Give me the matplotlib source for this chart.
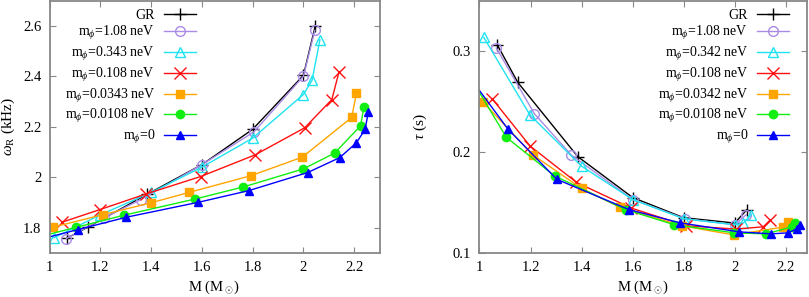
import numpy as np
import matplotlib
matplotlib.use('Agg')
import matplotlib.pyplot as plt
from matplotlib.ticker import FuncFormatter

plt.rcParams['font.family'] = ['Liberation Serif', 'DejaVu Serif']
plt.rcParams['mathtext.fontset'] = 'custom'
plt.rcParams['mathtext.rm'] = 'Liberation Serif'
plt.rcParams['mathtext.it'] = 'Liberation Serif:italic'
plt.rcParams['mathtext.sf'] = 'DejaVu Serif'
plt.rcParams['font.size'] = 10.5

# masses (M_sun) and values, one set per model
m_gr = [1.07, 1.15, 1.385, 1.60, 1.80, 2.00, 2.047]
w_gr = [1.760, 1.802, 1.933, 2.050, 2.190, 2.404, 2.601]
t_gr = [0.306, 0.269, 0.1955, 0.155, 0.135, 0.1297, 0.1428]

m_108 = [1.066, 1.215, 1.36, 1.60, 1.805, 2.00, 2.045]
w_108 = [1.757, 1.84, 1.912, 2.05, 2.18, 2.40, 2.582]
t_108 = [0.303, 0.238, 0.197, 0.153, 0.134, 0.128, 0.138]

m_034 = [1.017, 1.197, 1.40, 1.60, 1.80, 2.00, 2.034, 2.065]
w_034 = [1.760, 1.85, 1.940, 2.04, 2.155, 2.328, 2.384, 2.545]
t_034 = [0.3135, 0.237, 0.186, 0.153, 0.134, 0.128, 0.1297, 0.1379]

m_0108 = [1.049, 1.198, 1.38, 1.595, 1.81, 2.005, 2.112, 2.14]
w_0108 = [1.822, 1.872, 1.934, 2.003, 2.089, 2.196, 2.308, 2.417]
t_0108 = [0.253, 0.206, 0.170, 0.1445, 0.127, 0.1237, 0.126, 0.133]

m_0034 = [1.012, 1.21, 1.40, 1.549, 1.792, 1.996, 2.19, 2.209]
w_0034 = [1.802, 1.852, 1.899, 1.940, 2.006, 2.08, 2.237, 2.334]
t_0034 = [0.250, 0.197, 0.164, 0.1455, 0.127, 0.118, 0.1257, 0.131]

m_00108 = [0.95, 1.105, 1.294, 1.573, 1.764, 1.999, 2.123, 2.225, 2.238]
w_00108 = [1.762, 1.802, 1.850, 1.914, 1.962, 2.033, 2.096, 2.204, 2.277]
t_00108 = [0.280, 0.2147, 0.1764, 0.143, 0.128, 0.120, 0.119, 0.126, 0.130]

m_0 = [0.95, 1.112, 1.303, 1.586, 1.784, 2.017, 2.143, 2.209, 2.243, 2.256]
w_0 = [1.751, 1.793, 1.842, 1.901, 1.947, 2.019, 2.078, 2.137, 2.19, 2.26]
t_0 = [0.278, 0.2226, 0.173, 0.143, 0.130, 0.121, 0.119, 0.120, 0.124, 0.128]

labels_w = ['GR', r'm$_\phi$=1.08 neV', r'm$_\phi$=0.343 neV', r'm$_\phi$=0.108 neV',
            r'm$_\phi$=0.0343 neV', r'm$_\phi$=0.0108 neV', r'm$_\phi$=0']
labels_t = ['GR', r'm$_\phi$=1.08 neV', r'm$_\phi$=0.342 neV', r'm$_\phi$=0.108 neV',
            r'm$_\phi$=0.0342 neV', r'm$_\phi$=0.0108 neV', r'm$_\phi$=0']

masses = [m_gr, m_108, m_034, m_0108, m_0034, m_00108, m_0]
omegas = [w_gr, w_108, w_034, w_0108, w_0034, w_00108, w_0]
taus = [t_gr, t_108, t_034, t_0108, t_0034, t_00108, t_0]

styles = [
    dict(color='black', marker='+', ms=9, mew=1.0),
    dict(color='#a98be6', marker='o', ms=7, mfc='none', mew=1.0),
    dict(color='#1fe3f0', marker='^', ms=7, mfc='none', mew=1.0),
    dict(color='#ff1010', marker='x', ms=8, mew=1.0),
    dict(color='#ffa500', marker='s', ms=6),
    dict(color='#11ee11', marker='o', ms=6),
    dict(color='#0000ff', marker='^', ms=6),
]

fig = plt.figure(figsize=(8.09, 2.97), dpi=100)
ax1 = fig.add_axes([0.0612, 0.148, 0.408, 0.850])
ax2 = fig.add_axes([0.5927, 0.148, 0.4054, 0.850])

for m, w, t, st, lw_, lt in zip(masses, omegas, taus, styles, labels_w, labels_t):
    ax1.plot(m, w, lw=1.0, label=lw_, **st)
    ax2.plot(m, t, lw=1.0, label=lt, **st)

fmt = FuncFormatter(lambda v, p: '%g' % round(v, 3))
for ax in (ax1, ax2):
    ax.set_xlim(1, 2.3 if ax is ax1 else 2.285)
    ax.set_xticks([1, 1.2, 1.4, 1.6, 1.8, 2, 2.2])
    ax.xaxis.set_major_formatter(fmt)
    ax.yaxis.set_major_formatter(fmt)
    ax.tick_params(direction='in', top=True, right=True, length=4,
                   width=0.8, color='#888888', labelsize=10.5, pad=6)
    for s in ax.spines.values():
        s.set_color('#888888')
        s.set_linewidth(1.3)
    ax.set_xlabel(r'M (M$_\odot$)', labelpad=3)

ax1.set_ylim(1.7, 2.7)
ax1.set_yticks([1.8, 2, 2.2, 2.4, 2.6])
ax1.set_ylabel(r'$\omega_{\rm R}$ (kHz)', fontsize=11)
ax1.yaxis.set_label_coords(-0.098, 0.5)
ax2.set_ylim(0.1, 0.35)
ax2.set_yticks([0.1, 0.2, 0.3])
ax2.set_ylabel(r'$\tau$ (s)', fontsize=11)
ax2.yaxis.set_label_coords(-0.155, 0.5)

for ax, x in ((ax1, 0.455), (ax2, 0.955)):
    ax.legend(loc='upper right', bbox_to_anchor=(x, 0.985), frameon=False,
              markerfirst=False, handlelength=2.3, handletextpad=0.6,
              labelspacing=0.2, borderaxespad=0.1, borderpad=0.2,
              fontsize=10)

fig.savefig('out.png', dpi=100)
